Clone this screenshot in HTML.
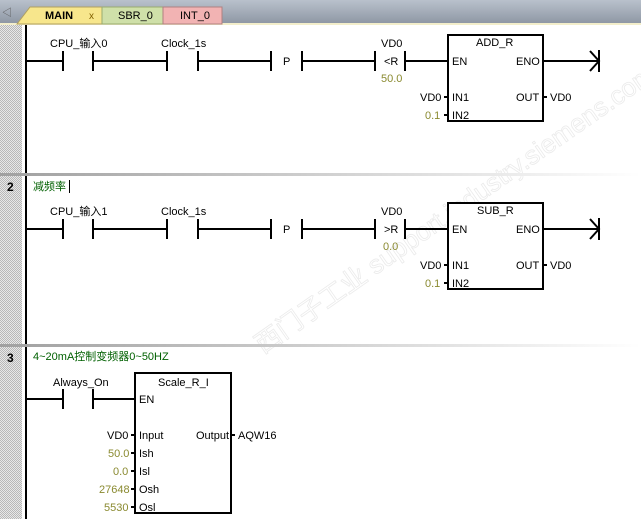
<!DOCTYPE html>
<html><head><meta charset="utf-8"><style>
html,body{margin:0;padding:0;background:#fff;}
svg{display:block;font-family:"Liberation Sans","Noto Sans CJK SC",sans-serif;font-size:11px;}
</style></head><body>
<svg width="641" height="519" viewBox="0 0 641 519" xmlns="http://www.w3.org/2000/svg">
<defs>
<pattern id="hatch" width="2" height="2" patternUnits="userSpaceOnUse">
<rect width="2" height="2" fill="#e8e8e8"/><rect width="1" height="1" fill="#b8b8b8"/><rect x="1" y="1" width="1" height="1" fill="#b8b8b8"/>
</pattern>
<linearGradient id="tb" x1="0" y1="0" x2="0" y2="1"><stop offset="0" stop-color="#b9c1cc"/><stop offset="1" stop-color="#8d96a3"/></linearGradient>
<linearGradient id="sep" x1="0" x2="1"><stop offset="0" stop-color="#a0a0a0"/><stop offset="1" stop-color="#ffffff"/></linearGradient>
</defs>
<rect width="641" height="519" fill="#fff"/>
<!-- faint watermark -->
<g transform="rotate(-35 380 260)" font-size="26">
<text x="230" y="270" fill="none" stroke="#ebebeb" stroke-width="0.8">西门子工业 support.industry.siemens.com</text>
</g>
<!-- tab bar -->
<rect x="0" y="0" width="641" height="24" fill="url(#tb)"/>
<rect x="0" y="23" width="641" height="2" fill="#f3eecb"/>
<text x="2" y="16" fill="#555" font-size="10">◁</text>
<path d="M17,24 L30,7 L102,7 L102,24 Z" fill="#f7e68c" stroke="#b0a060"/>
<text x="45" y="19" font-weight="bold" font-size="11">MAIN</text>
<text x="89" y="19" fill="#806000" font-size="10">x</text>
<path d="M102,24 L102,7 L163,7 L163,24 Z" fill="#cfe0a9" stroke="#9aab70"/>
<text x="118" y="19" font-size="11">SBR_0</text>
<path d="M163,24 L163,7 L222,7 L222,24 Z" fill="#f2b3b3" stroke="#b08080"/>
<text x="180" y="19" font-size="11">INT_0</text>
<!-- gutter -->
<rect x="0" y="25" width="22" height="494" fill="url(#hatch)"/>
<!-- separators -->
<rect x="0" y="173" width="641" height="3" fill="url(#sep)"/>
<rect x="0" y="344" width="641" height="3" fill="url(#sep)"/>
<rect x="22" y="176" width="2" height="20" fill="#fff"/>
<text x="7" y="191" font-weight="bold" font-size="12">2</text>
<text x="7" y="362" font-weight="bold" font-size="12">3</text>
<!-- rail -->
<g fill="#000">
<rect x="25" y="25" width="2" height="148"/>
<rect x="25" y="176" width="2" height="168"/>
<rect x="25" y="347" width="2" height="172"/>
</g>
<text x="33" y="190" fill="#006000">减频率</text>
<rect x="69" y="180" width="1" height="13" fill="#000"/>
<text x="33" y="360" fill="#006000">4~20mA控制变频器0~50HZ</text>

<g stroke="#000" stroke-width="2" fill="none">
<path d="M26,61 H63 M63,51 V71 M93,51 V71 M93,61 H167 M167,51 V71 M198,51 V71 M198,61 H271 M271,51 V71 M302,51 V71 M302,61 H375 M375,51 V71 M405,51 V71 M405,61 H448 M543,61 H599 M590,51 L599,61 L590,71 M599,50 V72"/>
<rect x="448" y="35" width="95" height="86" fill="#fff"/>
<path d="M444,97 H448 M444,115 H448 M543,97 H547"/>
<path d="M26,229 H63 M63,219 V239 M93,219 V239 M93,229 H167 M167,219 V239 M198,219 V239 M198,229 H271 M271,219 V239 M302,219 V239 M302,229 H375 M375,219 V239 M405,219 V239 M405,229 H448 M543,229 H599 M590,219 L599,229 L590,239 M599,218 V240"/>
<rect x="448" y="203" width="95" height="86" fill="#fff"/>
<path d="M444,265 H448 M444,283 H448 M543,265 H547"/>
<path d="M26,399 H63 M63,389 V409 M93,389 V409 M93,399 H135"/>
<rect x="135" y="373" width="96" height="140"/>
<path d="M131,435 H135 M131,453 H135 M131,471 H135 M131,489 H135 M131,507 H135 M231,435 H235"/>
</g>

<g fill="#000">
<text x="50" y="47">CPU_输入0</text>
<text x="161" y="47">Clock_1s</text>
<text x="283" y="65">P</text>
<text x="381" y="47">VD0</text>
<text x="384" y="65">&lt;R</text>
<text x="381" y="82" fill="#8a8a30">50.0</text>
<text x="476" y="46">ADD_R</text>
<text x="452" y="65">EN</text>
<text x="516" y="65">ENO</text>
<text x="420" y="101">VD0</text>
<text x="452" y="101">IN1</text>
<text x="425" y="119" fill="#8a8a30">0.1</text>
<text x="452" y="119">IN2</text>
<text x="516" y="101">OUT</text>
<text x="550" y="101">VD0</text>
<text x="50" y="215">CPU_输入1</text>
<text x="161" y="215">Clock_1s</text>
<text x="283" y="233">P</text>
<text x="381" y="215">VD0</text>
<text x="384" y="233">&gt;R</text>
<text x="383" y="250" fill="#8a8a30">0.0</text>
<text x="477" y="214">SUB_R</text>
<text x="452" y="233">EN</text>
<text x="516" y="233">ENO</text>
<text x="420" y="269">VD0</text>
<text x="452" y="269">IN1</text>
<text x="425" y="287" fill="#8a8a30">0.1</text>
<text x="452" y="287">IN2</text>
<text x="516" y="269">OUT</text>
<text x="550" y="269">VD0</text>
<text x="53" y="386">Always_On</text>
<text x="158" y="386">Scale_R_I</text>
<text x="139" y="403">EN</text>
<text x="107" y="439">VD0</text>
<text x="139" y="439">Input</text>
<text x="196" y="439">Output</text>
<text x="238" y="439">AQW16</text>
<text x="108" y="457" fill="#8a8a30">50.0</text>
<text x="139" y="457">Ish</text>
<text x="113" y="475" fill="#8a8a30">0.0</text>
<text x="139" y="475">Isl</text>
<text x="99" y="493" fill="#8a8a30">27648</text>
<text x="139" y="493">Osh</text>
<text x="104" y="511" fill="#8a8a30">5530</text>
<text x="139" y="511">Osl</text>
</g>
</svg>
</body></html>
